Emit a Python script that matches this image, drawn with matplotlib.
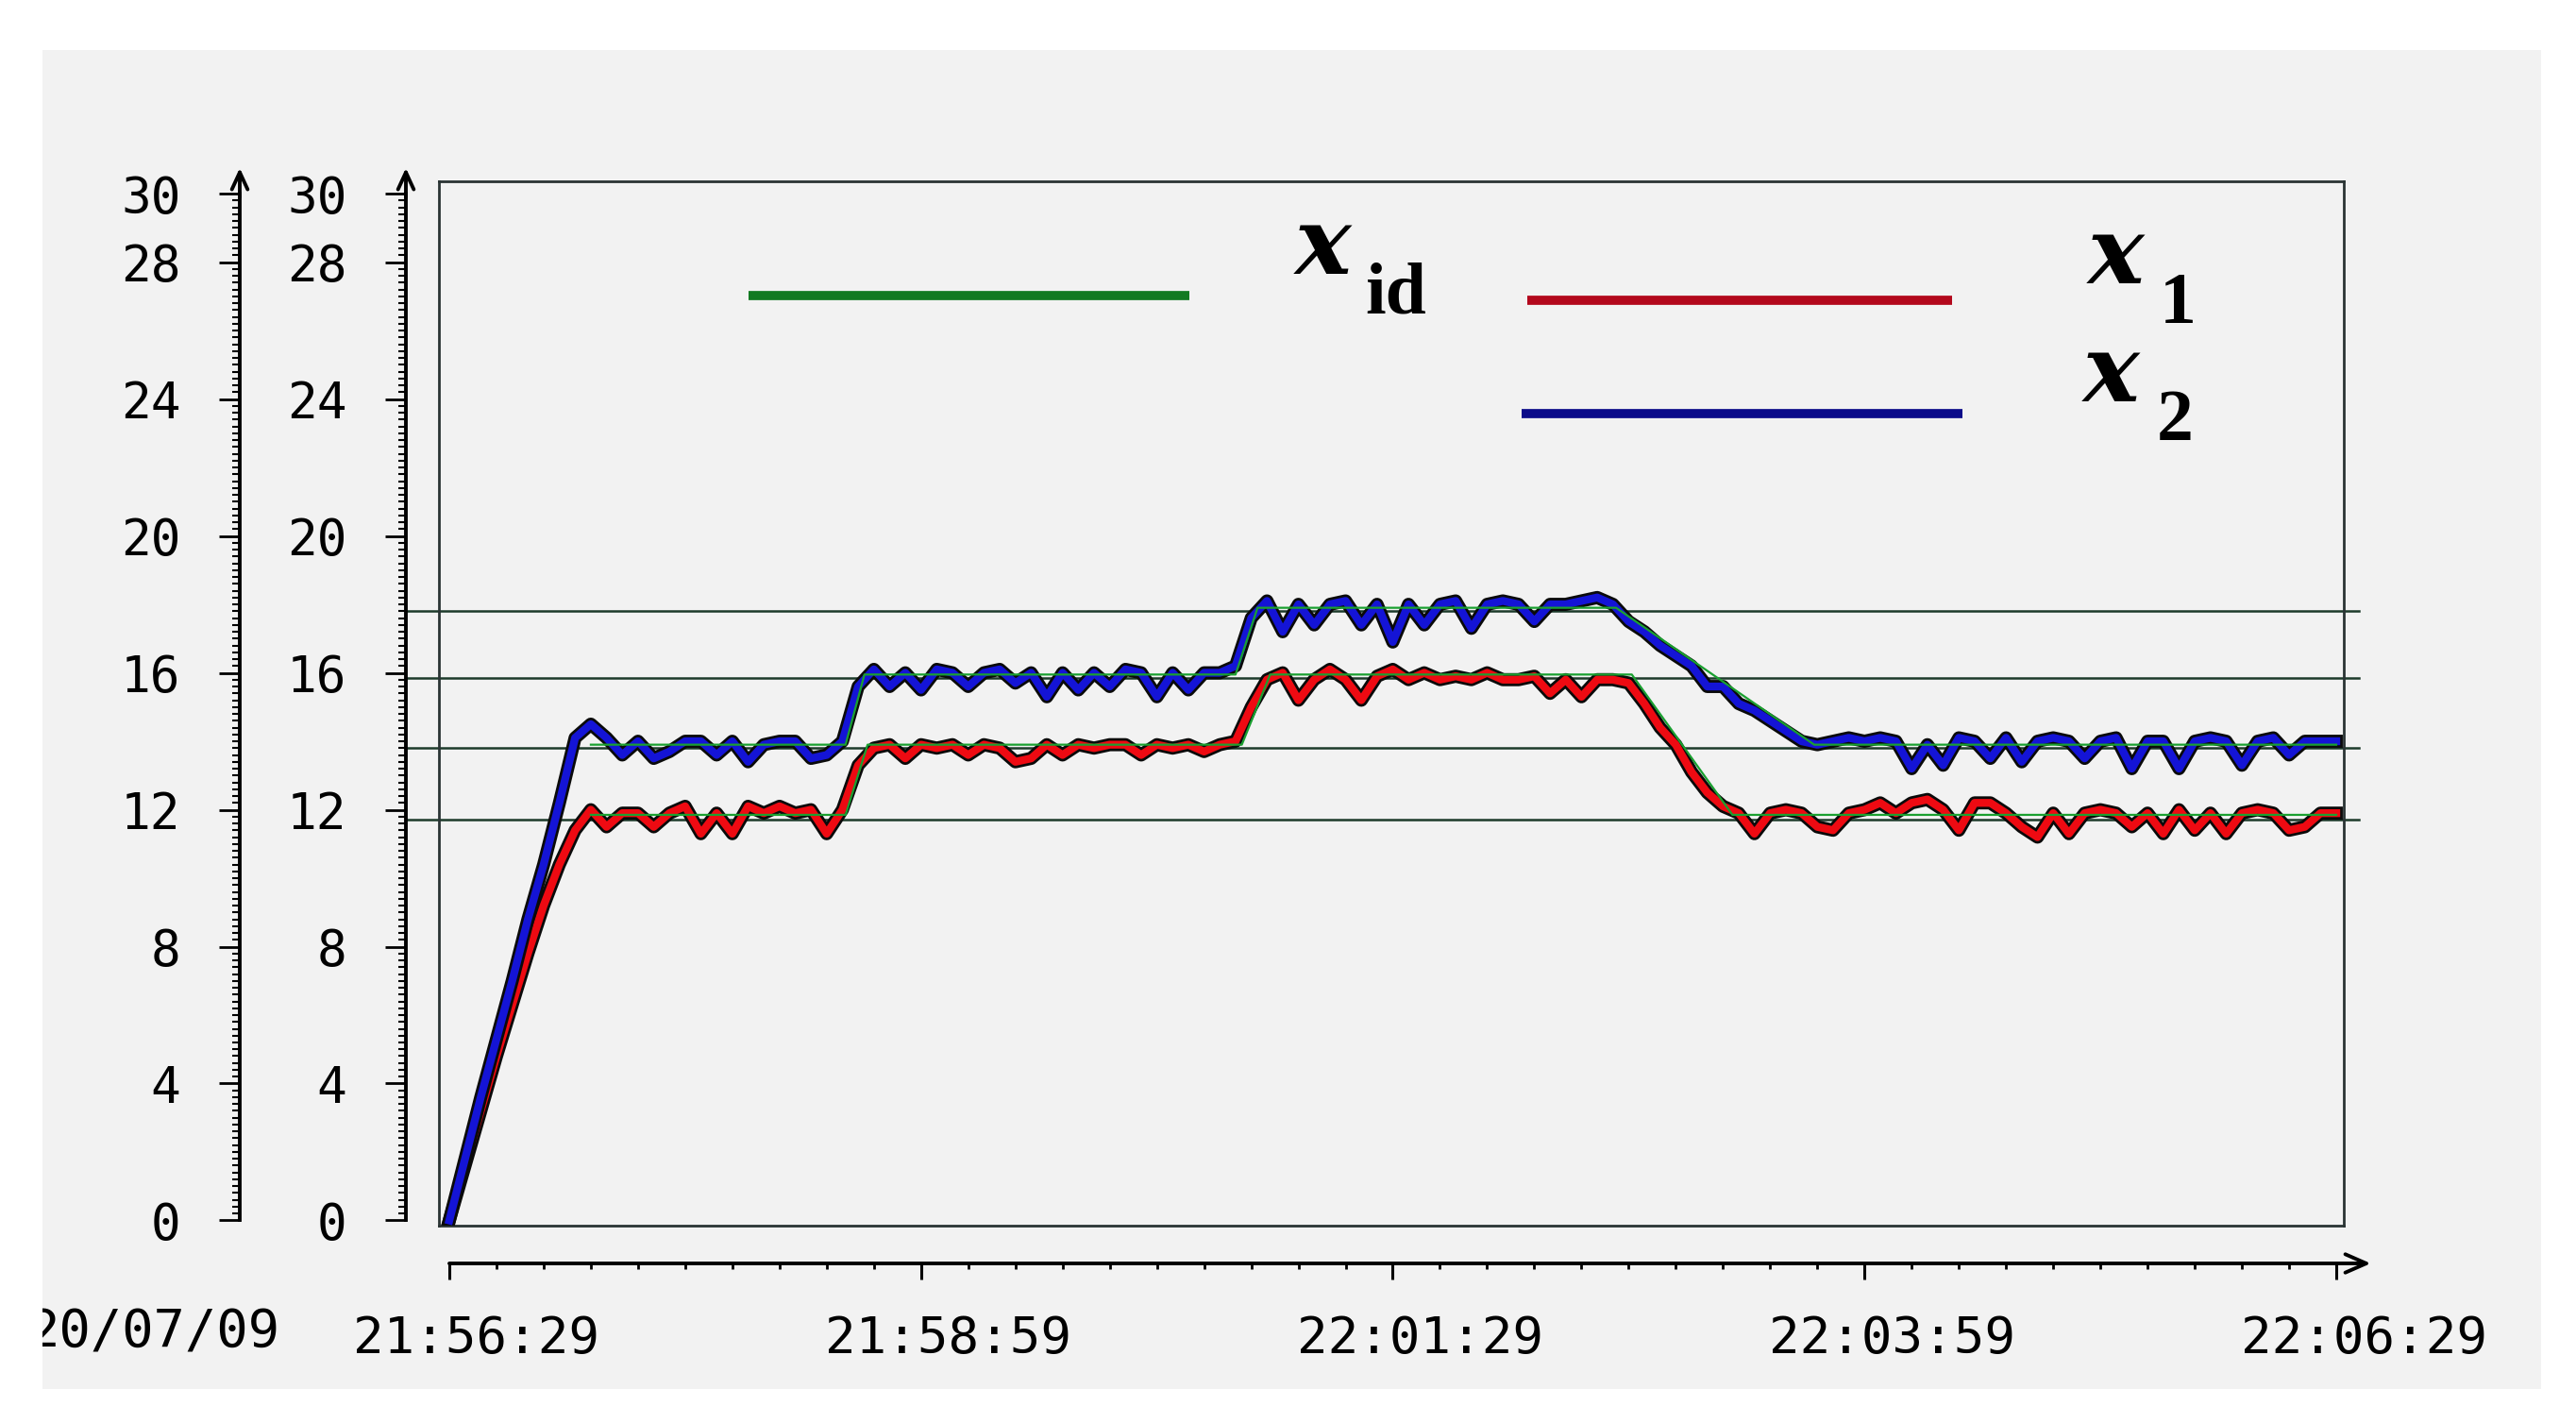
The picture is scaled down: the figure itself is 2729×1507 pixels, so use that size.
"""
Trend chart: x_id, x_1, x_2 over ten minutes (20/07/09, 21:56:29 - 22:06:29).
"""
import numpy as np
import matplotlib
matplotlib.use('Agg')
import matplotlib.pyplot as plt
import matplotlib.patheffects as pe
from matplotlib.lines import Line2D
from matplotlib.patches import Rectangle
from matplotlib.transforms import ScaledTranslation, Bbox, TransformedBbox
from matplotlib.ticker import FixedLocator

W, H = 2729, 1507

# --- data ---------------------------------------------------------------
# seconds after 21:56:29, one sample every 5 s
t = np.arange(0, 601, 5)

x1 = [
    0, 1.6, 3.2, 4.8, 6.3, 7.8, 9.2, 10.4, 11.4, 12.0,
    11.5, 11.9, 11.9, 11.5, 11.9, 12.1, 11.3, 11.9, 11.3, 12.1,
    11.9, 12.1, 11.9, 12.0, 11.3, 12.0, 13.3, 13.8, 13.9, 13.5,
    13.9, 13.8, 13.9, 13.6, 13.9, 13.8, 13.4, 13.5, 13.9, 13.6,
    13.9, 13.8, 13.9, 13.9, 13.6, 13.9, 13.8, 13.9, 13.7, 13.9,
    14.0, 15.0, 15.8, 16.0, 15.2, 15.8, 16.1, 15.8, 15.2, 15.9,
    16.1, 15.8, 16.0, 15.8, 15.9, 15.8, 16.0, 15.8, 15.8, 15.9,
    15.4, 15.8, 15.3, 15.8, 15.8, 15.7, 15.1, 14.4, 13.9, 13.1,
    12.5, 12.1, 11.9, 11.3, 11.9, 12.0, 11.9, 11.5, 11.4, 11.9,
    12.0, 12.2, 11.9, 12.2, 12.3, 12.0, 11.4, 12.2, 12.2, 11.9,
    11.5, 11.2, 11.9, 11.3, 11.9, 12.0, 11.9, 11.5, 11.9, 11.3,
    12.0, 11.4, 11.9, 11.3, 11.9, 12.0, 11.9, 11.4, 11.5, 11.9,
    11.9,
]

x2 = [
    0, 1.8, 3.6, 5.3, 7.0, 8.8, 10.4, 12.2, 14.1, 14.5,
    14.1, 13.6, 14.0, 13.5, 13.7, 14.0, 14.0, 13.6, 14.0, 13.4,
    13.9, 14.0, 14.0, 13.5, 13.6, 14.0, 15.6, 16.1, 15.6, 16.0,
    15.5, 16.1, 16.0, 15.6, 16.0, 16.1, 15.7, 16.0, 15.3, 16.0,
    15.5, 16.0, 15.6, 16.1, 16.0, 15.3, 16.0, 15.5, 16.0, 16.0,
    16.2, 17.6, 18.1, 17.2, 18.0, 17.4, 18.0, 18.1, 17.4, 18.0,
    16.9, 18.0, 17.4, 18.0, 18.1, 17.3, 18.0, 18.1, 18.0, 17.5,
    18.0, 18.0, 18.1, 18.2, 18.0, 17.5, 17.2, 16.8, 16.5, 16.2,
    15.6, 15.6, 15.1, 14.9, 14.6, 14.3, 14.0, 13.9, 14.0, 14.1,
    14.0, 14.1, 14.0, 13.2, 13.9, 13.3, 14.1, 14.0, 13.5, 14.1,
    13.4, 14.0, 14.1, 14.0, 13.5, 14.0, 14.1, 13.2, 14.0, 14.0,
    13.2, 14.0, 14.1, 14.0, 13.3, 14.0, 14.1, 13.6, 14.0, 14.0,
    14.0,
]

# ideal trajectories (x_id), corner points
xid1_t = [45, 126, 133, 252, 261, 376, 408, 600]
xid1_v = [11.85, 11.85, 13.9, 13.9, 15.95, 15.95, 11.85, 11.85]
xid2_t = [45, 126, 132, 250, 257, 371, 434, 600]
xid2_v = [13.9, 13.9, 15.95, 15.95, 17.9, 17.9, 13.9, 13.9]

# reference levels drawn across the plot
ref_levels = [11.7, 13.8, 15.85, 17.8]

y_ticks = [0, 4, 8, 12, 16, 20, 24, 28, 30]
time_ticks = [0, 150, 300, 450, 600]
time_labels = ['21:56:29', '21:58:59', '22:01:29', '22:03:59', '22:06:29']
date_label = '20/07/09'

PANEL = '#f2f2f2'
RED, BLUE, GREEN = '#ee0a12', '#1414d6', '#1aa030'
RED_L, BLUE_L, GREEN_L = '#b3081c', '#0c0c8a', '#127a22'

XLIM = (-3.3, 602.4)
YLIM = (-0.152, 30.36)
MONO = 'DejaVu Sans Mono'


def fig_rect(x0, y0, x1, y1):
    """pixel box (origin top-left) -> [left, bottom, width, height] in figure fraction"""
    return [x0 / W, 1 - y1 / H, (x1 - x0) / W, (y1 - y0) / H]


fig = plt.figure(figsize=(W / 100, H / 100), dpi=100, facecolor='white')
panel_rect = fig_rect(45, 53, 2692, 1471)
fig.add_artist(Rectangle(panel_rect[:2], panel_rect[2], panel_rect[3],
                         transform=fig.transFigure, facecolor=PANEL,
                         edgecolor='none', zorder=-1))

# --- plot box -----------------------------------------------------------
ax = fig.add_axes(fig_rect(465, 192, 2483, 1298))
ax.set_facecolor('none')
ax.set_xlim(XLIM)
ax.set_ylim(YLIM)
ax.set_xticks([])
ax.set_yticks([])
for s in ax.spines.values():
    s.set_color('#2a3434')
    s.set_linewidth(2.0)

for v in ref_levels:
    ax.axhline(v, xmin=-0.0173, xmax=1.008, color='#1d3b2b', lw=1.8,
               clip_on=False, zorder=1)

outline = [pe.Stroke(linewidth=10, foreground='#0a0a0a'), pe.Normal()]
ax.plot(t, x1, color=RED, lw=6, path_effects=outline, zorder=3)
ax.plot(t, x2, color=BLUE, lw=6, path_effects=outline, zorder=4)
ax.plot(xid1_t, xid1_v, color=GREEN, lw=1.6, zorder=5)
ax.plot(xid2_t, xid2_v, color=GREEN, lw=1.6, zorder=5)

# --- the two value scales on the left ----------------------------------
for xl in (254, 430):
    ay = fig.add_axes(fig_rect(xl, 192, xl + 1, 1298))
    ay.set_facecolor('none')
    ay.set_ylim(YLIM)
    ay.set_xticks([])
    for name in ('top', 'right', 'bottom'):
        ay.spines[name].set_visible(False)
    ay.spines['left'].set_bounds(0, 30)
    ay.spines['left'].set_linewidth(2.8)
    ay.set_yticks(y_ticks)
    ay.set_yticklabels([str(v) for v in y_ticks], fontfamily=MONO, fontsize=38)
    ay.yaxis.set_minor_locator(FixedLocator(np.arange(0, 30.01, 0.2)))
    ay.tick_params(axis='y', which='major', length=16, width=2.0, pad=29)
    ay.tick_params(axis='y', which='minor', length=5.5, width=1.5)
    ay.annotate('', xy=(0, 30.75), xytext=(0, 29.9),
                xycoords=('axes fraction', 'data'),
                arrowprops=dict(arrowstyle='->,head_length=1.3,head_width=0.6',
                                lw=2.8, color='black', shrinkA=0, shrinkB=0),
                annotation_clip=False)

# --- time scale ---------------------------------------------------------
at = fig.add_axes(fig_rect(465, 1337, 2483, 1338))
at.set_facecolor('none')
at.set_xlim(XLIM)
at.set_yticks([])
for s in at.spines.values():
    s.set_visible(False)
at.set_xticks(time_ticks)
at.set_xticklabels(time_labels, fontfamily=MONO, fontsize=39)
at.xaxis.set_minor_locator(FixedLocator(np.arange(0, 601, 15)))
at.tick_params(axis='x', which='major', direction='out', length=12, width=2.2, pad=27)
at.tick_params(axis='x', which='minor', direction='out', length=4.5, width=2.0)
shift = ScaledTranslation(0.29, 0, fig.dpi_scale_trans)
for lab in at.get_xticklabels():
    lab.set_transform(lab.get_transform() + shift)
at.annotate('', xy=(611, 0), xytext=(0, 0), xycoords=('data', 'axes fraction'),
            arrowprops=dict(arrowstyle='->,head_length=1.6,head_width=0.7',
                            lw=2.8, color='black', shrinkA=0, shrinkB=0),
            annotation_clip=False)

dl = fig.text(297 / W, 1 - 1412 / H, date_label, ha='right', va='center',
              fontfamily=MONO, fontsize=40)
dl.set_clip_box(TransformedBbox(Bbox.from_bounds(*panel_rect), fig.transFigure))
dl.set_clip_on(True)

# --- legend -------------------------------------------------------------
swatches = [((793, 1260), 313, GREEN_L), ((1618, 2068), 318, RED_L),
            ((1612, 2079), 438, BLUE_L)]
for (xa, xb), yy, c in swatches:
    fig.add_artist(Line2D([xa / W, xb / W], [1 - yy / H] * 2,
                          transform=fig.transFigure, color=c, lw=7,
                          solid_capstyle='butt'))

names = [((1372, 290), (1446, 332), 'id'),
         ((2212, 300), (2288, 342), '1'),
         ((2207, 425), (2285, 466), '2')]
for (xx, yx), (xs, ys), sub in names:
    fig.text(xx / W, 1 - yx / H, 'x', fontfamily='DejaVu Serif',
             fontstyle='italic', fontweight='bold', fontsize=72,
             ha='left', va='baseline')
    fig.text(xs / W, 1 - ys / H, sub, fontfamily='Liberation Serif',
             fontweight='bold', fontsize=56, ha='left', va='baseline')

fig.savefig('out.png', dpi=100, facecolor='white')
